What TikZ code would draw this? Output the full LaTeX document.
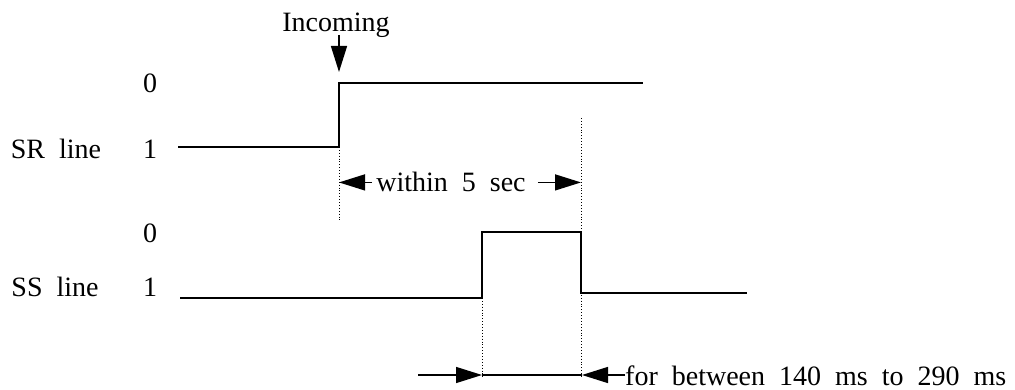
\documentclass[tikz,border=0pt]{standalone}
\usepackage{fontspec}
\setmainfont{Liberation Serif}
\usetikzlibrary{arrows.meta}

\begin{document}
\begin{tikzpicture}[x=1pt,y=-1pt,
		lbl/.style={font=\fontsize{28}{32}\selectfont, inner sep=0pt, anchor=base},
		sig/.style={line width=1.6pt},
		guide/.style={dotted, line width=0.9pt},
		dim/.style={line width=1.4pt, -{Triangle[length=26pt,width=16pt]}},
		dimline/.style={line width=1.4pt}]
	\useasboundingbox (0,0) rectangle (1015,390);
	% level labels
	\node[lbl] (srname) at (56,159) {SR\ \ line};
	\node[lbl] (srhi)   at (150,93)  {0};
	\node[lbl] (srlo)   at (150,159) {1};
	\node[lbl] (ssname) at (55,296) {SS\ \ line};
	\node[lbl] (sshi)   at (150,243) {0};
	\node[lbl] (sslo)   at (150,296) {1};
	% SR waveform
	\coordinate (sr0) at (178,147);
	\coordinate (sr1) at (339,147);
	\coordinate (sr2) at (339,83);
	\coordinate (sr3) at (643,83);
	\draw[sig] (sr0) -- (sr1) -- (sr2) -- (sr3);
	% SS waveform
	\coordinate (ss0) at (180,298);
	\coordinate (ss1) at (482,298);
	\coordinate (ss2) at (482,232);
	\coordinate (ss3) at (581,232);
	\coordinate (ss4) at (581,293);
	\coordinate (ss5) at (747,293);
	\draw[sig] (ss0) -- (ss1) -- (ss2) -- (ss3) -- (ss4) -- (ss5);
	% incoming
	\node[lbl] (inc) at (336,32) {Incoming};
	\coordinate (inctip) at (339,72);
	\draw[dim] (inc.base -| inctip) ++(0,3) -- (inctip);
	% guides
	\coordinate (g1) at (339,222);
	\coordinate (g2t) at (581,118);
	\coordinate (g2b) at (581,378);
	\coordinate (g3) at (482,378);
	\draw[guide] (sr1) -- (g1);
	\draw[guide] (g2t) -- (g2b);
	\draw[guide] (ss1) -- (g3);
	% within 5 sec
	\node[lbl] (win) at (451,192) {within\ \ 5\ \ sec};
	\draw[dim] ([xshift=-4pt]win.west) -- (win.west -| sr1);
	\draw[dim] ([xshift=12pt]win.east) -- (win.east -| g2t);
	% pulse width
	\node[lbl, anchor=base west] (dur) at (625,385) {for\ \ between\ \ 140\ \ ms\ \ to\ \ 290\ \ ms};
	\coordinate (dl) at (418,375);
	\coordinate (da) at (482,375);
	\coordinate (db) at (582,375);
	\draw[dim] (dl) -- (da);
	\draw[dimline] (da) -- (db);
	\draw[dim] (dur.west |- db) -- (db);
\end{tikzpicture}
\end{document}
